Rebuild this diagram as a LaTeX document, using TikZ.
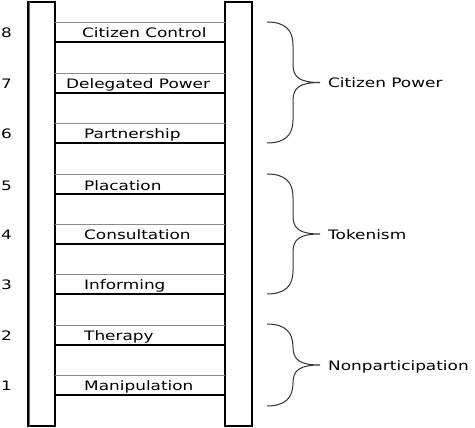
\documentclass[tikz,border=0pt]{standalone}
\usepackage{fontspec}
\setmainfont{DejaVu Sans}
\newcommand{\wide}[1]{\scalebox{1.3}[1]{#1}}
\tikzstyle{rail}=[draw=black,line width=1.2pt]
\tikzstyle{upper}=[draw=black!45,line width=0.9pt]
\tikzstyle{lower}=[draw=black,line width=1.4pt]
\tikzstyle{brace}=[draw=black!80,line width=1pt]
\tikzstyle{every node}=[inner sep=0pt,anchor=base west,font=\fontsize{13}{15}\selectfont]

\begin{document}
\begin{tikzpicture}[x=1pt,y=-1pt]
  \useasboundingbox (0,0) rectangle (475,428);
  \draw[rail] (28,2) rectangle (55,426);
  \draw[rail] (225,2) rectangle (252,426);
  \draw[line width=1pt,black!60] (29.5,2) -- (29.5,426);
  \foreach \n/\t/\y/\x in {8/Citizen Control/22/82,7/Delegated Power/73/66,
      6/Partnership/123/84,5/Placation/174/84,4/Consultation/224/84,
      3/Informing/274/84,2/Therapy/325/84,1/Manipulation/375/84} {
    \draw[upper] (55,\y) -- (225,\y);
    \draw[lower] (55,\y+20) -- (225,\y+20);
    \node (rung\n) at (\x,\y+16) {\wide{\t}};
    \node (num\n) at (1,\y+16) {\wide{\n}};
  }
  \foreach \a/\b/\t/\k in {22/143/Citizen Power/power,174/294/Tokenism/token,
      324/406/Nonparticipation/non} {
    \pgfmathsetmacro{\m}{(\a+\b)/2}
    \draw[brace] (267,\a) .. controls (285,\a) and (293,\a+8) .. (293,\a+23)
      -- (293,\m-18) .. controls (293,\m-5) and (300,\m) .. (320,\m)
      .. controls (300,\m) and (293,\m+5) .. (293,\m+18)
      -- (293,\b-23) .. controls (293,\b-8) and (285,\b) .. (267,\b);
    \node (\k) at (328,\m+5.5) {\wide{\t}};
  }
\end{tikzpicture}
\end{document}
